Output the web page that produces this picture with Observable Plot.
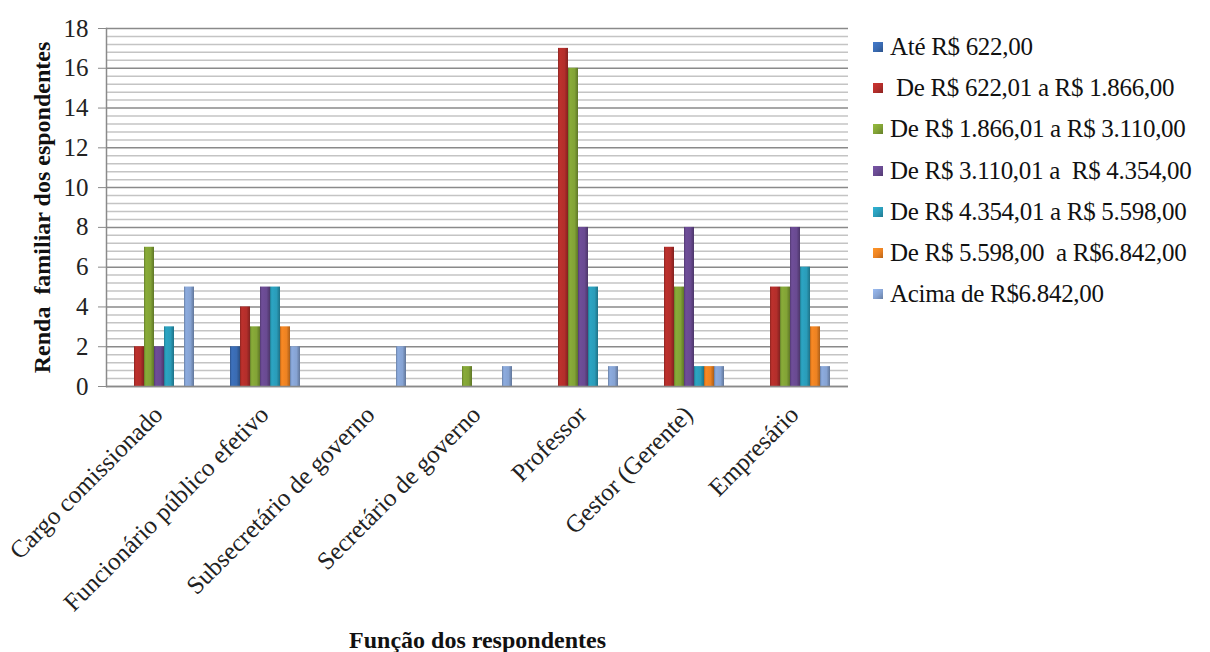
<!DOCTYPE html>
<html>
<head>
<meta charset="utf-8">
<script src="https://cdn.jsdelivr.net/npm/d3@7"></script>
<script src="https://cdn.jsdelivr.net/npm/@observablehq/plot@0.6"></script>
<style>
  body { margin: 0; background: #fff; }
  #wrap { position: relative; width: 1210px; height: 652px; font-family: "Liberation Serif", "Times New Roman", serif; }
  #legend { position: absolute; left: 873px; top: 26px; font-family: "Liberation Serif", "Times New Roman", serif; }
  .item { height: 41.3px; display: flex; align-items: center; font-size: 25px; white-space: pre; color: #111; letter-spacing: -0.3px; }
  .sw { width: 10px; height: 10px; margin-right: 7px; flex: none; }
  svg [aria-label="y-axis label"] text, svg [aria-label="fx-axis label"] text { font-weight: bold; fill: #111; font-size: 24px; }
</style>
</head>
<body>
<div id="wrap"><div id="legend"></div></div>
<script>
// Categories (function of the respondents)
const categories = [
  "Cargo comissionado",
  "Funcionário público efetivo",
  "Subsecretário de governo",
  "Secretário de governo",
  "Professor",
  "Gestor (Gerente)",
  "Empresário"
];

// Income brackets (series labels, as shown in the legend)
const seriesNames = [
  "Até R$ 622,00",
  " De R$ 622,01 a R$ 1.866,00",
  "De R$ 1.866,01 a R$ 3.110,00",
  "De R$ 3.110,01 a  R$ 4.354,00",
  "De R$ 4.354,01 a R$ 5.598,00",
  "De R$ 5.598,00  a R$6.842,00",
  "Acima de R$6.842,00"
];

// Counts per category for each bracket
const ate622   = [0, 2, 0, 0, 0, 0, 0];
const de622    = [2, 4, 0, 0, 17, 7, 5];
const de1866   = [7, 3, 0, 1, 16, 5, 5];
const de3110   = [2, 5, 0, 0, 8, 8, 8];
const de4354   = [3, 5, 0, 0, 5, 1, 6];
const de5598   = [0, 3, 0, 0, 0, 1, 3];
const acima    = [5, 2, 2, 1, 1, 1, 1];

const seriesValues = [ate622, de622, de1866, de3110, de4354, de5598, acima];
const seriesColors = ["#3a6bb2", "#b32e2b", "#82a336", "#694a91", "#2a9cb9", "#ec8222", "#86a3d3"];

// Y axis ticks
const majorTicks = [0, 2, 4, 6, 8, 10, 12, 14, 16, 18];
const minorTicks = d3.range(0, 18.001, 0.4).filter(v => Math.abs(v / 2 - Math.round(v / 2)) > 1e-6);

// Long-format table for Plot
const rows = [];
seriesValues.forEach((vals, si) => {
  vals.forEach((v, ci) => rows.push({cat: categories[ci], series: seriesNames[si], value: v}));
});

const chart = Plot.plot({
  width: 1210,
  height: 652,
  marginLeft: 104,
  marginRight: 360,
  marginTop: 28,
  marginBottom: 266,
  style: {fontFamily: "'Liberation Serif', 'Times New Roman', serif", fontSize: "24px", color: "#222", background: "#fff"},
  fx: {domain: categories, padding: 0, label: null},
  x: {domain: seriesNames, paddingInner: 0, paddingOuter: 1.5, axis: null},
  y: {domain: [0, 18], label: null},
  color: {domain: seriesNames, range: seriesNames.map((_, i) => `url(#grad${i})`)},
  marks: [
    Plot.gridY(minorTicks, {stroke: "#c4c4c4", strokeOpacity: 1, strokeWidth: 1.5}),
    Plot.gridY(majorTicks, {stroke: "#8a8a8a", strokeOpacity: 1, strokeWidth: 1.5}),
    Plot.barY(rows, {
      filter: d => d.value > 0,
      fx: "cat", x: "series", y: "value", fill: "series"
    }),
    Plot.ruleY([0], {stroke: "#8a8a8a", strokeWidth: 1.5}),
    Plot.frame({anchor: "left", stroke: "#8a8a8a", strokeWidth: 1.5, facetAnchor: "left"}),
    Plot.axisY(majorTicks, {
      tickSize: 8, tickPadding: 10, stroke: "#8a8a8a", fontSize: 25, fill: "#222",
      label: "Renda  familiar dos espondentes", labelAnchor: "center", labelOffset: 74, labelArrow: "none"
    }),
    Plot.axisFx({
      anchor: "bottom", tickSize: 0, tickRotate: -45, fontSize: 25, fill: "#222",
      tickPadding: 24, dx: -1,
      label: "Função dos respondentes", labelAnchor: "center", labelOffset: 261, labelArrow: "none"
    })
  ]
});

// Bevelled gradients for the bars
const defs = d3.select(chart).insert("defs", ":first-child");
seriesColors.forEach((c, i) => {
  const base = d3.color(c);
  const g = defs.append("linearGradient").attr("id", `grad${i}`)
    .attr("x1", 0).attr("x2", 1).attr("y1", 0).attr("y2", 0);
  g.append("stop").attr("offset", "0%").attr("stop-color", base.darker(0.7).formatHex());
  g.append("stop").attr("offset", "18%").attr("stop-color", base.brighter(0.15).formatHex());
  g.append("stop").attr("offset", "65%").attr("stop-color", base.formatHex());
  g.append("stop").attr("offset", "100%").attr("stop-color", base.darker(0.9).formatHex());
});

document.getElementById("wrap").prepend(chart);
chart.style.position = "absolute";
chart.style.left = "0";
chart.style.top = "0";

// Legend
const legend = d3.select("#legend");
seriesNames.forEach((name, i) => {
  const base = d3.color(seriesColors[i]);
  const item = legend.append("div").attr("class", "item");
  item.append("div").attr("class", "sw")
    .style("background", `linear-gradient(135deg, ${base.brighter(0.4).formatHex()}, ${base.formatHex()} 55%, ${base.darker(0.7).formatHex()})`);
  item.append("span").text(name);
});
</script>
</body>
</html>
